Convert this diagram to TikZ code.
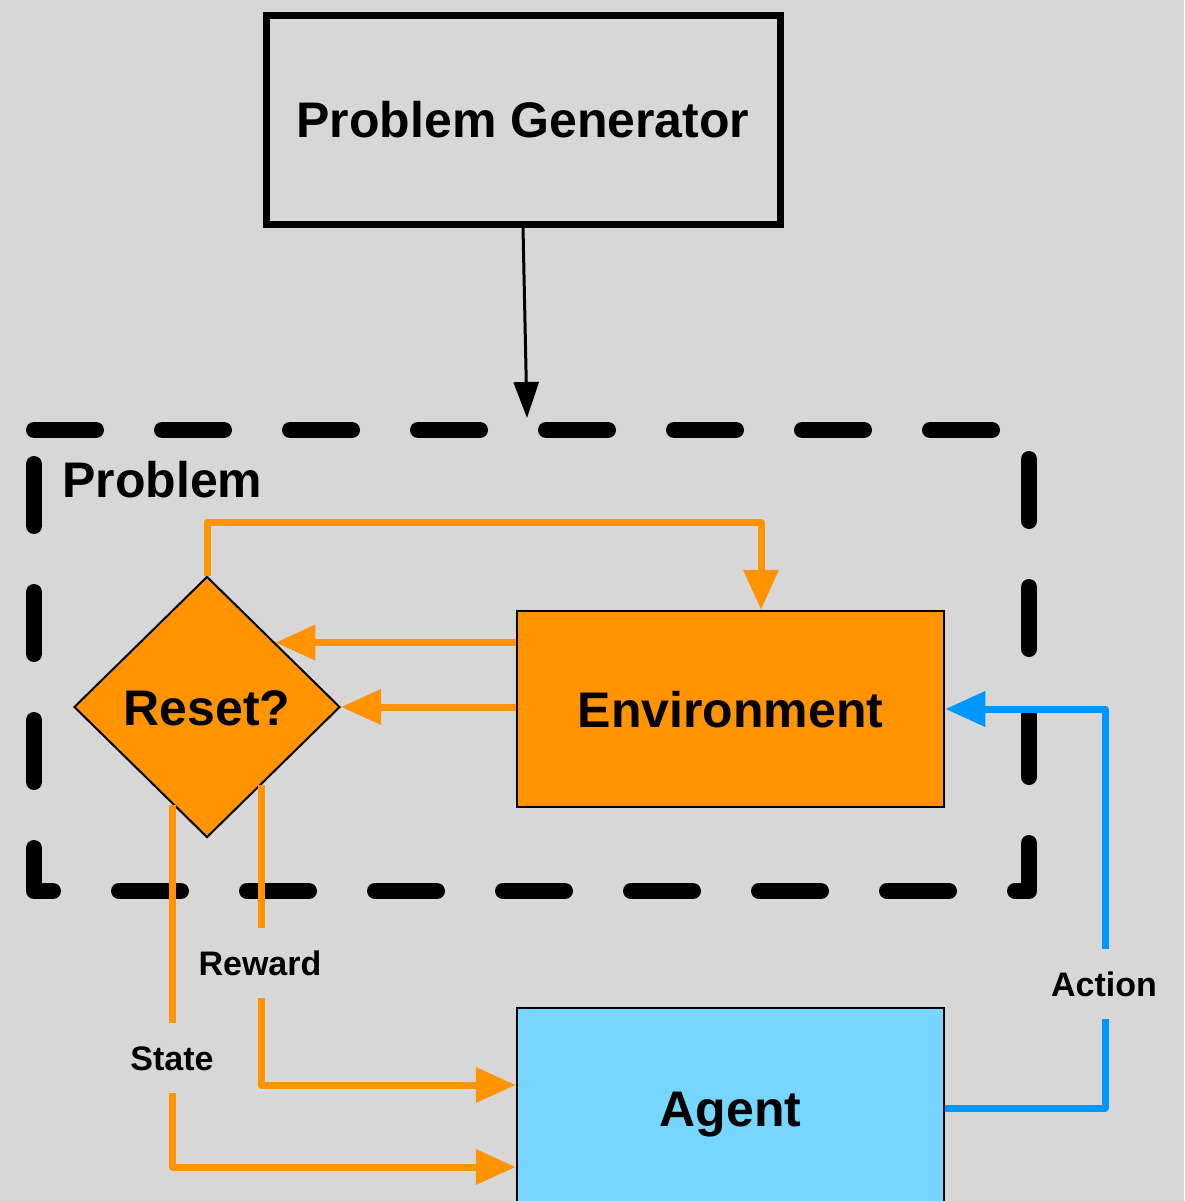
\documentclass[tikz,border=0pt]{standalone}
\usepackage{fontspec}
\setmainfont{Liberation Sans}
\usetikzlibrary{arrows.meta,shapes.geometric,calc}
\definecolor{canvas}{RGB}{215,215,215}
\definecolor{envorange}{RGB}{255,147,0}
\definecolor{agentblue}{RGB}{118,214,255}
\definecolor{actionblue}{RGB}{0,150,255}

\begin{document}
\begin{tikzpicture}[x=1pt,y=-1pt,
  bigtext/.style={font=\fontsize{50}{60}\selectfont\bfseries, text height=36pt, text depth=0pt, inner sep=0pt},
  linklabel/.style={font=\fontsize{34}{40}\selectfont\bfseries, text height=24pt, text depth=0pt,
    fill=canvas, inner xsep=4pt, inner ysep=23pt},
  genbox/.style={bigtext, draw=black, line width=7pt, rectangle, minimum width=514pt, minimum height=208pt},
  envbox/.style={bigtext, draw=black, line width=2.5pt, fill=envorange, rectangle, minimum width=427pt, minimum height=196pt},
  agentbox/.style={bigtext, draw=black, line width=2.5pt, fill=agentblue, rectangle, minimum width=427pt, minimum height=200pt},
  decision/.style={bigtext, draw=black, line width=2pt, fill=envorange, diamond, minimum width=266pt, minimum height=261pt},
  feed/.style={draw=envorange, line width=7pt, line join=round, -{Triangle[length=40pt,width=34pt]}},
  act/.style={draw=actionblue, line width=7pt, line join=round, -{Triangle[length=40pt,width=34pt]}},
  gen/.style={draw=black, line width=3pt, -{Triangle[length=36pt,width=25pt]}},
  frame/.style={draw=black, line width=16pt, line cap=round, line join=round, dash pattern=on 62pt off 66pt}
]
% canvas
\fill[canvas] (0,0) rectangle (1184,1201);
\clip (0,0) rectangle (1184,1201);

% problem generator and the container it feeds
\node[genbox] (pg) at (523,120) {Problem Generator};
\draw[frame] (34,430) -- (1029,430) -- (1029,891) -- (34,891) -- cycle;
\node[font=\fontsize{50}{60}\selectfont\bfseries, anchor=base west, inner sep=0pt] (problbl) at (62,497) {Problem};
\coordinate (gp) at (527,418);
\draw[gen] (pg.south) -- (gp);

% blocks
\node[decision] (dia) at (207,707) {Reset?};
\node[envbox] (env) at (730.5,709) {Environment};
\node[agentbox] (agent) at (730.5,1108) {Agent};

% helper points on the diamond border and bends
\coordinate (r1) at ($(dia.north)!0.51!(dia.east)$);
\coordinate (rw) at ($(dia.east)!0.594!(dia.south)$);
\coordinate (st) at ($(dia.south)!0.256!(dia.west)$);
\coordinate (k1) at (761,522);
\coordinate (rwy) at (0,1085);
\coordinate (sty) at (0,1167);
\coordinate (ak) at (1105,709);

% reset loop back to the environment
\draw[feed] (dia.north) |- (k1) -- (k1 |- env.north);
% environment outputs into the decision
\draw[feed] (env.west |- r1) -- (r1);
\draw[feed] (env.west |- dia.east) -- (dia.east);
% reward and state to the agent
\draw[feed] (rw) |- (agent.west |- rwy);
\draw[feed] (st) |- (agent.west |- sty);
% action back to the environment
\draw[act] (agent.east) -| (ak) -- (env.east);

% connector labels
\node[linklabel] (lrew) at (260,963) {Reward};
\node[linklabel] (lsta) at (172,1058) {State};
\node[linklabel] (lact) at (1104,984) {Action};
\end{tikzpicture}
\end{document}
